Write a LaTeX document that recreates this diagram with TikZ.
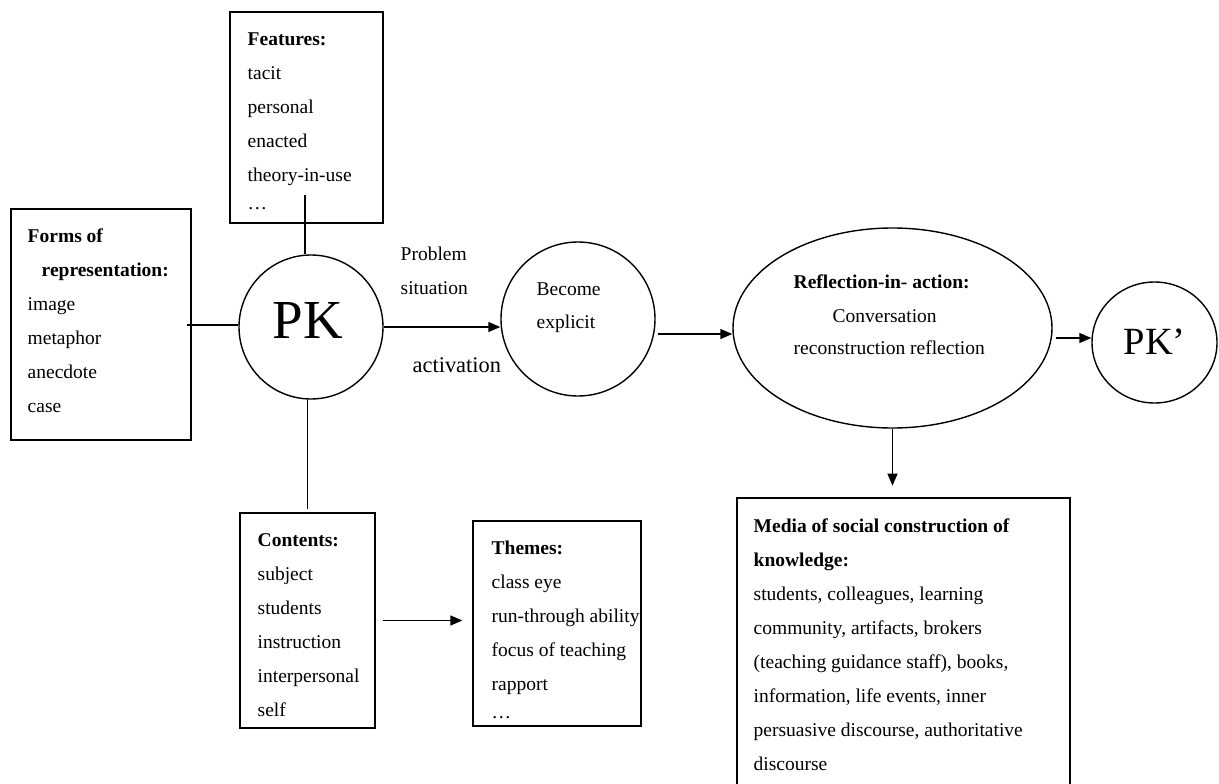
\documentclass[tikz,border=0pt]{standalone}
\usepackage{fontspec}
\setmainfont{Liberation Serif}
\usetikzlibrary{arrows.meta,shapes.geometric}
\begin{document}
\begin{tikzpicture}[x=1pt,y=-1pt,line width=1.4pt,
  box/.style={draw,rectangle,inner sep=0pt},
  circ/.style={draw,circle,inner sep=0pt},
  oval/.style={draw,ellipse,inner sep=0pt},
  txt/.style={anchor=north west,inner sep=0pt,align=left,font=\fontsize{19.5}{34}\selectfont},
  arr/.style={-{Triangle[length=12pt,width=10pt]}}]
\useasboundingbox (0,0) rectangle (1219,784);
% boxes
\node[box,minimum width=153pt,minimum height=211pt] (feat) at (306.5,117.5) {};
\node[box,minimum width=180pt,minimum height=231pt] (forms) at (101,324.5) {};
\node[box,minimum width=135pt,minimum height=215pt] (contents) at (307.5,620.5) {};
\node[box,minimum width=168pt,minimum height=205pt] (themes) at (557,623.5) {};
\node[box,minimum width=333pt,minimum height=302pt] (media) at (903.5,649) {};
% circles and ellipses
\node[circ,minimum size=144pt] (pk) at (311,327) {};
\node[circ,minimum size=154pt] (become) at (578,319) {};
\node[oval,minimum width=319pt,minimum height=200pt] (refl) at (892.5,328) {};
\node[oval,minimum width=125pt,minimum height=121pt] (pk2) at (1154.5,342.5) {};
% texts
\node[txt] (featT) at (247,21.2) {\strut\textbf{Features:}\\tacit\\personal\\enacted\\theory-in-use\\[-6pt]\ldots};
\node[txt] (formsT) at (27,218.2) {\strut\textbf{Forms of}\\\hspace*{14pt}\textbf{representation:}\\image\\metaphor\\anecdote\\case};
\node[txt] (contentsT) at (257,522.2) {\strut\textbf{Contents:}\\subject\\students\\instruction\\interpersonal\\self};
\node[txt] (themesT) at (491,530.2) {\strut\textbf{Themes:}\\class eye\\run-through ability\\focus of teaching\\rapport\\[-6pt]\ldots};
\node[txt] (mediaT) at (753,508.2) {\strut\textbf{Media of social construction of}\\\textbf{knowledge:}\\students, colleagues, learning\\community, artifacts, brokers\\(teaching guidance staff), books,\\information, life events, inner\\persuasive discourse, authoritative\\discourse};
\node[txt] (reflT) at (793,264.2) {\strut\textbf{Reflection-in- action:}\\\hspace*{39pt}Conversation\\[-2pt]reconstruction reflection};
\node[txt] (becomeT) at (536,271.2) {\strut Become\\[-1pt]explicit};
\node[txt] (probT) at (400,236.2) {\strut Problem\\situation};
\node[anchor=base west,inner sep=0pt,font=\fontsize{22.4}{26}\selectfont] (actT) at (412,372) {activation};
\node[anchor=base,inner sep=0pt,font=\fontsize{55}{60}\selectfont] (pkT) at (308,338) {PK};
\node[anchor=base west,inner sep=0pt,font=\fontsize{38.5}{42}\selectfont] (pk2T) at (1123,354) {PK’};
% connectors
\coordinate (fa) at (305,195);
\draw (fa) -- (fa |- pk.north);
\coordinate (fo) at (187,325);
\draw (fo) -- (fo -| pk.west);
\draw (contents.north |- pk.south) -- ([yshift=3pt]contents.north);
\draw[arr] (pk.east) -- (pk.east -| become.west);
\coordinate (b1) at ([xshift=2pt,yshift=-15pt]become.east);
\draw[arr] (b1) -- (b1 -| refl.west);
\coordinate (r1) at ([xshift=3pt,yshift=-10pt]refl.east);
\draw[arr] (r1) -- (r1 -| pk2.west);
\draw[arr] (refl.south) -- ++(0,57);
\coordinate (c1) at ([xshift=7pt]contents.east);
\path (c1 -| themes.west) coordinate (c2);
\draw[arr] (c1) -- ([xshift=-10pt]c2);
\end{tikzpicture}
\end{document}
